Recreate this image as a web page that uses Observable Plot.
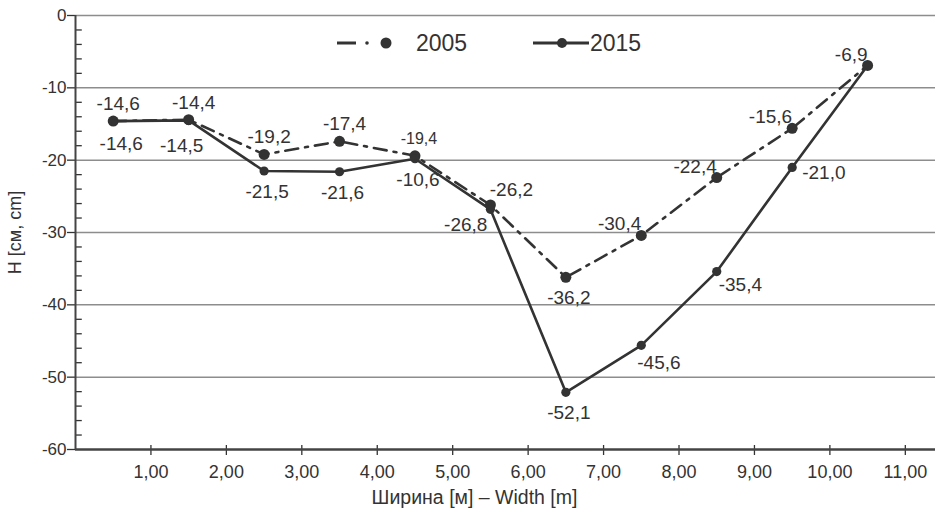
<!DOCTYPE html>
<html><head><meta charset="utf-8">
<script src="https://cdn.jsdelivr.net/npm/d3@7"></script>
<script src="https://cdn.jsdelivr.net/npm/@observablehq/plot@0.6"></script>
<style>
body{margin:0;background:#fff;font-family:"Liberation Sans",Arial,sans-serif;}
#wrap{position:relative;width:941px;height:516px;}
#legend{position:absolute;left:0;top:0;width:941px;height:80px;pointer-events:none;color:#333;font-size:23px;}
#legend span{position:absolute;line-height:1;}
</style></head><body><div id="wrap"><div id="legend"></div></div>
<script>
// ---- data ----
const widths = [0.5, 1.5, 2.5, 3.5, 4.5, 5.5, 6.5, 7.5, 8.5, 9.5, 10.5];
const values2005 = [-14.6, -14.4, -19.2, -17.4, -19.4, -26.2, -36.2, -30.4, -22.4, -15.6, -6.9];
const values2015 = [-14.6, -14.5, -21.5, -21.6, -19.8, -26.8, -52.1, -45.6, -35.4, -21.0, -6.9];
const labels2005 = ["-14,6", "-14,4", "-19,2", "-17,4", "-19,4", "-26,2", "-36,2", "-30,4", "-22,4", "-15,6", "-6,9"];
const labels2015 = ["-14,6", "-14,5", "-21,5", "-21,6", "-10,6", "-26,8", "-52,1", "-45,6", "-35,4", "-21,0", ""];
const place2005 = ["n", "n", "n", "n", "nsm", "ne", "s", "nw", "nw", "nw", "nw"];
const place2015 = ["s1", "s2", "s", "s", "s", "sw", "s", "se", "se2", "e", "none"];
const seriesNames = ["2005", "2015"];
const yTicks = [0, -10, -20, -30, -40, -50, -60];
const yMinor = d3.range(-58, 0, 2).filter(d => d % 10 !== 0);
const xTicks = [1, 2, 3, 4, 5, 6, 7, 8, 9, 10, 11];
const xTickLabels = ["1,00", "2,00", "3,00", "4,00", "5,00", "6,00", "7,00", "8,00", "9,00", "10,00", "11,00"];
const xTitle = "Ширина [м] – Width [m]";
const yTitle = "H [см, cm]";

// ---- build ----
const ink = "#333";
const rows2005 = widths.map((x, i) => ({x, y: values2005[i], label: labels2005[i], place: place2005[i]}));
const rows2015 = widths.map((x, i) => ({x, y: values2015[i], label: labels2015[i], place: place2015[i]}));
const placements = {
  n:   {dx: 5,  dy: -17, textAnchor: "middle"},
  nsm: {dx: 4,  dy: -17, textAnchor: "middle", fontSize: 16},
  ne:  {dx: 21, dy: -15, textAnchor: "middle"},
  nw:  {dx: 0,  dy: -11, textAnchor: "end"},
  s:   {dx: 3,  dy: 21,  textAnchor: "middle"},
  s1:  {dx: 8,  dy: 23,  textAnchor: "middle"},
  s2:  {dx: -7, dy: 26,  textAnchor: "middle"},
  sw:  {dx: -3, dy: 16,  textAnchor: "end"},
  se:  {dx: -4, dy: 18,  textAnchor: "start"},
  se2: {dx: 2,  dy: 13,  textAnchor: "start"},
  e:   {dx: 10, dy: 6,   textAnchor: "start"}
};
const allRows = rows2005.concat(rows2015);
const textMarks = Object.entries(placements).map(([key, p]) =>
  Plot.text(allRows.filter(r => r.place === key), {
    x: "x", y: "y", text: "label", dx: p.dx, dy: p.dy, textAnchor: p.textAnchor,
    fontSize: p.fontSize || 19, fill: ink
  })
);

const chart = Plot.plot({
  width: 941, height: 516,
  marginLeft: 75, marginRight: 6, marginTop: 15, marginBottom: 67,
  style: {fontFamily: "'Liberation Sans', Arial, sans-serif", fontSize: "17px", color: ink, background: "#fff"},
  x: {domain: [0, 11.4]},
  y: {domain: [-60, 0]},
  marks: [
    Plot.ruleY(yTicks.filter(d => d !== -60), {stroke: "#8d8d8d", strokeWidth: 1.5}),
    Plot.ruleY(yMinor, {x1: 0, x2: 0.09, stroke: ink, strokeWidth: 1.3}),
    Plot.ruleX(xTicks, {y1: -60, y2: -59.45, stroke: ink, strokeWidth: 1.3}),
    Plot.axisY({ticks: yTicks, tickSize: 8, tickPadding: 1, fontSize: 17, label: null, tickFormat: d => String(d), strokeWidth: 1.3}),
    Plot.axisX({ticks: xTicks, tickSize: 6, tickPadding: 10, fontSize: 18, label: null, tickFormat: (d, i) => xTickLabels[i], strokeWidth: 1.3}),
    Plot.ruleX([0], {stroke: "#444", strokeWidth: 2}),
    Plot.ruleY([-60], {stroke: "#444", strokeWidth: 2.5}),
    Plot.line(rows2005, {x: "x", y: "y", stroke: ink, strokeWidth: 2.6, strokeDasharray: "13,7,3,7"}),
    Plot.line(rows2015, {x: "x", y: "y", stroke: ink, strokeWidth: 2.6}),
    Plot.dot(rows2005, {x: "x", y: "y", r: 5.5, fill: ink}),
    Plot.dot(rows2015, {x: "x", y: "y", r: 4.6, fill: ink}),
    ...textMarks,
    Plot.text([yTitle], {frameAnchor: "left", textAnchor: "middle", rotate: -90, dx: -60, fontSize: 18, fill: ink}),
    Plot.text([xTitle], {frameAnchor: "bottom", lineAnchor: "middle", dx: -31, dy: 48, fontSize: 19.5, fill: ink})
  ]
});
document.getElementById("wrap").prepend(chart);

// ---- legend (HTML overlay) ----
const lg = document.getElementById("legend");
lg.innerHTML = `
<svg width="941" height="80" style="position:absolute;left:0;top:0">
  <line x1="337" x2="356" y1="43" y2="43" stroke="${ink}" stroke-width="3"/>
  <circle cx="367" cy="43" r="1.8" fill="${ink}"/>
  <circle cx="386" cy="43" r="5.5" fill="${ink}"/>
  <line x1="533" x2="589" y1="43" y2="43" stroke="${ink}" stroke-width="3"/>
  <circle cx="562" cy="43" r="5" fill="${ink}"/>
</svg>
<span style="left:416px;top:32px">${seriesNames[0]}</span>
<span style="left:590px;top:32px">${seriesNames[1]}</span>`;
</script>
</body></html>
